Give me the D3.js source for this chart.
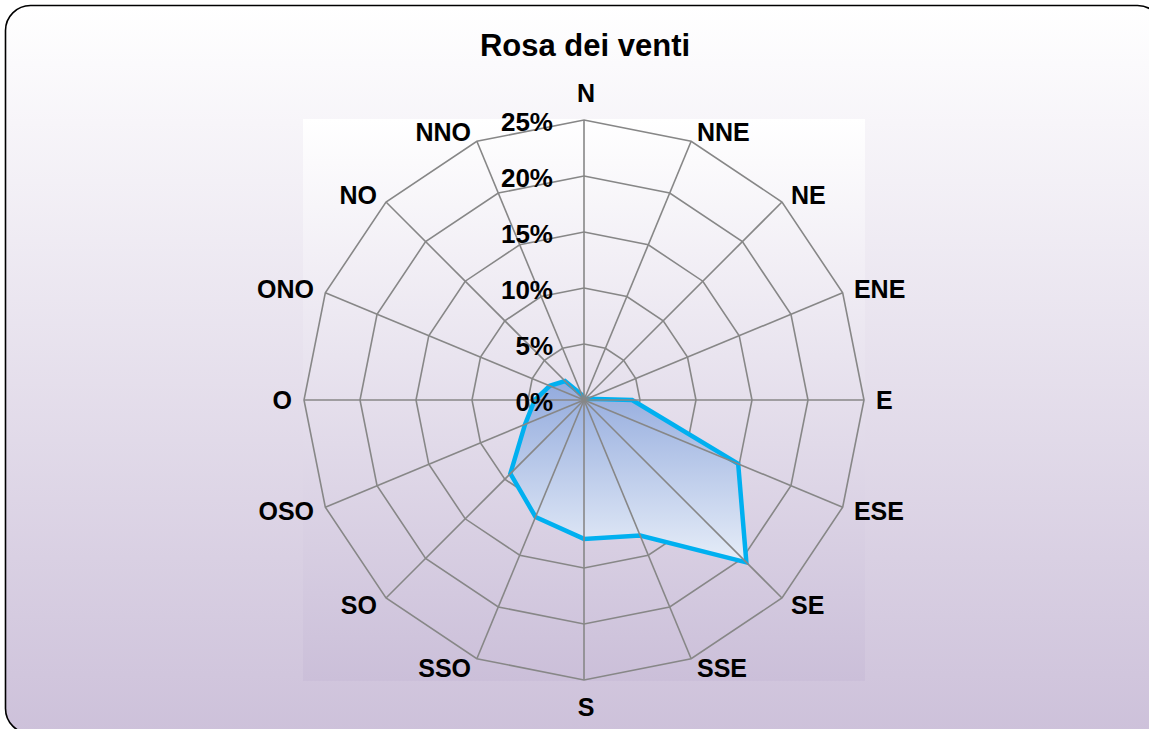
<!DOCTYPE html>
<html>
<head>
<meta charset="utf-8">
<script src="https://cdn.jsdelivr.net/npm/d3@7"></script>
<style>
  html, body { margin: 0; padding: 0; background: #ffffff; }
  svg { display: block; }
  text { font-family: "Liberation Sans", Arial, sans-serif; font-weight: bold; fill: #000; }
</style>
</head>
<body>
<svg id="chart" width="1149" height="729"></svg>
<script>
const title = "Rosa dei venti";
const directions = ["N","NNE","NE","ENE","E","ESE","SE","SSE","S","SSO","SO","OSO","O","ONO","NO","NNO"];
const values = [0, 0, 0, 0.3, 4.3, 14.9, 20.5, 13.1, 12.4, 11.3, 9.3, 5.7, 4.4, 3.3, 2.4, 0.5];
const ticks = [0, 5, 10, 15, 20, 25];
const tickLabels = ["0%", "5%", "10%", "15%", "20%", "25%"];

const W = 1149, H = 729;
const cx = 584, cy = 400, R = 280;
const svg = d3.select("#chart");
const defs = svg.append("defs");

const gOuter = defs.append("linearGradient").attr("id", "gOuter").attr("x1", 0).attr("y1", 0).attr("x2", 0).attr("y2", 1);
gOuter.append("stop").attr("offset", "0%").attr("stop-color", "#ffffff");
gOuter.append("stop").attr("offset", "100%").attr("stop-color", "#cdc1da");

const gPlot = defs.append("linearGradient").attr("id", "gPlot").attr("x1", 0).attr("y1", 0).attr("x2", 0).attr("y2", 1);
gPlot.append("stop").attr("offset", "0%").attr("stop-color", "#ffffff");
gPlot.append("stop").attr("offset", "100%").attr("stop-color", "#cbbfd9");

const gFill = defs.append("linearGradient").attr("id", "gFill").attr("x1", 0).attr("y1", 0).attr("x2", 0).attr("y2", 1);
gFill.append("stop").attr("offset", "0%").attr("stop-color", "#92aadd");
gFill.append("stop").attr("offset", "100%").attr("stop-color", "#e6edf8");

// chart area
svg.append("rect")
  .attr("x", 5.5).attr("y", 5.5).attr("width", 1157).attr("height", 728)
  .attr("rx", 25).attr("ry", 25)
  .attr("fill", "url(#gOuter)").attr("stroke", "#000").attr("stroke-width", 1.6);

// plot area
svg.append("rect")
  .attr("x", cx - 281).attr("y", cy - 281).attr("width", 562).attr("height", 562)
  .attr("fill", "url(#gPlot)");

svg.append("text")
  .attr("x", cx + 1).attr("y", 56)
  .attr("text-anchor", "middle")
  .style("font-size", "31px")
  .text(title);

const r = d3.scaleLinear().domain([0, 25]).range([0, R]);
const angle = d3.scalePoint().domain(directions).range([0, 2 * Math.PI * (directions.length - 1) / directions.length]);

function pt(dir, v) {
  const a = angle(dir);
  return [cx + r(v) * Math.sin(a), cy - r(v) * Math.cos(a)];
}

const grid = svg.append("g").attr("fill", "none").attr("stroke", "#878787").attr("stroke-width", 1.6);

// rings
ticks.filter(t => t > 0).forEach(t => {
  grid.append("path").attr("d", d3.line()(directions.map(d => pt(d, t))) + "Z");
});

// series
svg.append("path")
  .attr("d", d3.line()(directions.map((d, i) => pt(d, values[i]))) + "Z")
  .attr("fill", "url(#gFill)")
  .attr("stroke", "#00b0f0")
  .attr("stroke-width", 4.5)
  .attr("stroke-linejoin", "miter");

// spokes drawn over the fill
const spokes = svg.append("g").attr("fill", "none").attr("stroke", "#878787").attr("stroke-width", 1.6);
directions.forEach(d => {
  const [x, y] = pt(d, 25);
  spokes.append("line").attr("x1", cx).attr("y1", cy).attr("x2", x).attr("y2", y);
});

// tick labels
svg.append("g").selectAll("text").data(ticks).join("text")
  .attr("x", cx - 31)
  .attr("y", t => cy - r(t) + 2)
  .attr("text-anchor", "end")
  .attr("dominant-baseline", "central")
  .style("font-size", "26px")
  .text((t, i) => tickLabels[i]);

// category labels
svg.append("g").selectAll("text").data(directions).join("text")
  .each(function(d) {
    const a = angle(d);
    const sx = Math.sin(a), cy_ = -Math.cos(a);
    const [vx, vy] = pt(d, 25);
    const sel = d3.select(this);
    let x, y, anchor;
    if (Math.abs(sx) < 0.01) {
      x = vx + 2; y = vy + cy_ * 27; anchor = "middle";
    } else {
      x = vx + Math.sign(sx) * (10 * Math.abs(sx) + 2);
      y = vy + cy_ * 10;
      anchor = sx > 0 ? "start" : "end";
    }
    sel.attr("x", x).attr("y", y).attr("text-anchor", anchor)
      .attr("dominant-baseline", "central");
  })
  .style("font-size", "25px")
  .text(d => d);
</script>
</body>
</html>
